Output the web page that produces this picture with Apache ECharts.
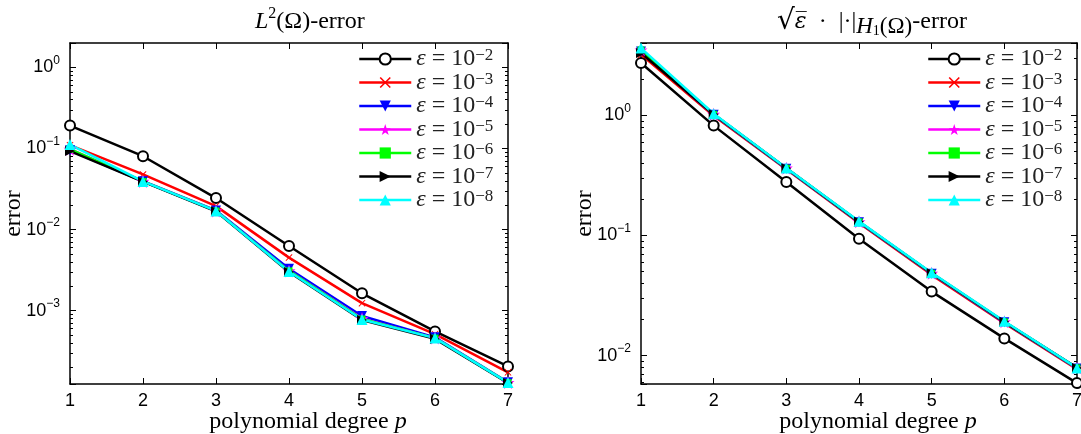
<!DOCTYPE html>
<html>
<head>
<meta charset="utf-8">
<script src="https://cdn.jsdelivr.net/npm/echarts@6/dist/echarts.min.js"></script>
<style>
body { margin: 0; background: #fff; }
#l2 { position: absolute; left: 0; top: 0; width: 540px; height: 434px; }
#h1 { position: absolute; left: 540px; top: 0; width: 541px; height: 434px; }
</style>
</head>
<body>
<div id="l2"></div>
<div id="h1"></div>
<script>
// polynomial degree p on the x axis
var degrees = [1, 2, 3, 4, 5, 6, 7];
// eps = 10^-k
var epsExp = [2, 3, 4, 5, 6, 7, 8];

// L2(Omega) error
var l2Eps2 = [0.192, 0.0804, 0.0245, 0.00628, 0.00164, 0.000556, 0.000206];
var l2Eps3 = [0.110, 0.0479, 0.0195, 0.00452, 0.00124, 0.000515, 0.000174];
var l2Eps4 = [0.095, 0.0395, 0.0172, 0.00330, 0.00086, 0.000470, 0.000131];
var l2Eps5 = [0.098, 0.0393, 0.0170, 0.00310, 0.00080, 0.000460, 0.000130];
var l2Eps6 = [0.098, 0.0393, 0.0170, 0.00310, 0.00079, 0.000460, 0.000130];
var l2Eps7 = [0.093, 0.0390, 0.0168, 0.00300, 0.00077, 0.000450, 0.000129];
var l2Eps8 = [0.112, 0.0393, 0.0170, 0.00305, 0.00078, 0.000460, 0.000130];

// sqrt(eps) * |.|_H1 error
var h1Eps2 = [2.73, 0.821, 0.279, 0.0937, 0.0341, 0.0139, 0.0059];
var h1Eps3 = [3.20, 0.990, 0.355, 0.127, 0.0470, 0.0186, 0.0077];
var h1Eps4 = [3.40, 1.010, 0.360, 0.129, 0.0480, 0.0189, 0.0078];
var h1Eps5 = [3.50, 1.020, 0.363, 0.130, 0.0485, 0.0191, 0.0079];
var h1Eps6 = [3.50, 1.020, 0.363, 0.130, 0.0485, 0.0191, 0.0079];
var h1Eps7 = [3.30, 1.020, 0.362, 0.130, 0.0485, 0.0191, 0.0079];
var h1Eps8 = [3.63, 1.030, 0.365, 0.131, 0.0489, 0.0193, 0.0079];

var colors = ['#000000', '#ff0000', '#0000ff', '#ff00ff', '#00ff00', '#000000', '#00ffff'];
var symbols = [
    'emptyCircle',
    'path://M0,1L1,0L5,4L9,0L10,1L6,5L10,9L9,10L5,6L1,10L0,9L4,5Z',
    'path://M0,0L10,0L5,9Z',
    'path://M5,0L6.2,3.6L10,3.6L6.9,5.9L8.1,9.5L5,7.3L1.9,9.5L3.1,5.9L0,3.6L3.8,3.6Z',
    'rect',
    'path://M0,0L9,5L0,10Z',
    'path://M5,0L10,9L0,9Z'
];
var symbolSizes = [10, 7, 10, 13, 7, 10, 11];

var serif = 'Liberation Serif';
var sans = 'Liberation Sans';

function logLabel(v) {
    var e = Math.log10(v);
    var r = Math.round(e);
    if (Math.abs(e - r) > 1e-6) return '';
    return '{b|10}{s|' + (r < 0 ? '\u2212' + (-r) : r) + '}';
}

function legendText(name) {
    var k = name.split('-')[1];
    return '{e|\u03b5}{n| = 10}{s|\u2212' + k + '}';
}

function txt(size, extra) {
    var s = { fontFamily: serif, fontSize: size, fontWeight: 'normal', color: '#000' };
    for (var k in extra) s[k] = extra[k];
    return s;
}

function makeOption(cfg) {
    var series = [];
    var names = [];
    for (var i = 0; i < cfg.data.length; i++) {
        var name = 'eps-' + epsExp[i];
        names.push(name);
        series.push({
            name: name,
            type: 'line',
            data: degrees.map(function (d, j) { return [d, cfg.data[i][j]]; }),
            symbol: symbols[i],
            symbolSize: symbolSizes[i],
            clip: false,
            lineStyle: { width: 2.5, color: colors[i] },
            itemStyle: { color: colors[i], borderColor: colors[i], borderWidth: i == 0 ? 2 : 0 }
        });
    }
    var tick = { show: true, inside: true, length: 6, lineStyle: { color: '#000', width: 1 } };
    var minor = { show: true, splitNumber: 9, length: 3, lineStyle: { color: '#000', width: 1 } };
    var line = { show: true, lineStyle: { color: '#000', width: 1.5 } };
    return {
        animation: false,
        title: {
            text: cfg.title,
            left: cfg.titleLeft,
            top: 6,
            padding: 0,
            textStyle: { fontWeight: 'normal', rich: cfg.titleRich }
        },
        grid: { left: cfg.gridLeft, right: cfg.gridRight, top: 43, bottom: 50, outerBoundsMode: 'none', containLabel: false },
        legend: {
            orient: 'vertical',
            left: cfg.legendLeft,
            top: 42,
            itemWidth: 52,
            itemHeight: 14,
            itemGap: -0.5,
            selectedMode: false,
            data: names,
            formatter: legendText,
            lineStyle: { width: 2.5 },
            textStyle: {
                fontFamily: serif,
                fontSize: 24,
                color: '#222',
                lineHeight: 23.5,
                rich: {
                    e: { fontFamily: serif, fontSize: 24, fontStyle: 'italic', color: '#222', lineHeight: 23.5 },
                    n: { fontFamily: serif, fontSize: 24, color: '#222', lineHeight: 23.5 },
                    s: { fontFamily: serif, fontSize: 17, color: '#222', lineHeight: 14, verticalAlign: 'top' }
                }
            }
        },
        xAxis: [{
            type: 'value', min: 1, max: 7, interval: 1, position: 'bottom',
            name: '{n|polynomial degree }{i|p}',
            nameLocation: 'middle',
            nameGap: 26,
            nameMoveOverlap: false,
            nameTextStyle: {
                padding: [0, 0, 0, 38],
                rich: { n: txt(24), i: txt(24, { fontStyle: 'italic' }) }
            },
            axisLine: line, axisTick: tick,
            axisLabel: { fontFamily: sans, fontSize: 18, color: '#000', margin: 8 },
            splitLine: { show: false }
        }, {
            type: 'value', min: 1, max: 7, interval: 1, position: 'top',
            axisLine: line, axisTick: tick, axisLabel: { show: false }, splitLine: { show: false }
        }],
        yAxis: [{
            type: 'log', min: cfg.yMin, max: cfg.yMax, position: 'left',
            name: 'error',
            nameLocation: 'middle',
            nameGap: 44,
            nameMoveOverlap: false,
            nameTextStyle: txt(24),
            axisLine: line, axisTick: tick, minorTick: minor,
            axisLabel: {
                formatter: logLabel,
                margin: 10,
                rich: {
                    b: { fontFamily: sans, fontSize: 18, color: '#000', lineHeight: 26 },
                    s: { fontFamily: sans, fontSize: 12, color: '#000', lineHeight: 12, verticalAlign: 'top' }
                }
            },
            splitLine: { show: false }, minorSplitLine: { show: false }
        }, {
            type: 'log', min: cfg.yMin, max: cfg.yMax, position: 'right',
            axisLine: line, axisTick: tick, minorTick: minor,
            axisLabel: { show: false }, splitLine: { show: false }, minorSplitLine: { show: false }
        }],
        series: series
    };
}

var l2Chart = echarts.init(document.getElementById('l2'));
l2Chart.setOption(makeOption({
    data: [l2Eps2, l2Eps3, l2Eps4, l2Eps5, l2Eps6, l2Eps7, l2Eps8],
    yMin: 1.25e-4, yMax: 2,
    gridLeft: 70, gridRight: 32,
    legendLeft: 353,
    title: '{i|L}{s|2}{n|(\u03a9)-error}',
    titleLeft: 255,
    titleRich: {
        i: txt(24, { fontStyle: 'italic', lineHeight: 32 }),
        s: txt(16, { lineHeight: 16, verticalAlign: 'top' }),
        n: txt(24, { lineHeight: 32 })
    }
}));

var h1Chart = echarts.init(document.getElementById('h1'));
h1Chart.setOption(makeOption({
    data: [h1Eps2, h1Eps3, h1Eps4, h1Eps5, h1Eps6, h1Eps7, h1Eps8],
    yMin: 0.0058, yMax: 4,
    gridLeft: 101, gridRight: 4,
    legendLeft: 382,
    title: '{r|\u221a}{i|\u03b5\u0305}{n|\u2002\u00b7\u2002|\u00b7|}{si|H}{ss|1}{sn|(\u03a9)}{n|-error}',
    titleLeft: 237,
    titleRich: {
        r: txt(28, { fontFamily: 'DejaVu Serif', lineHeight: 32 }),
        n: txt(24, { lineHeight: 32 }),
        i: txt(22, { fontFamily: 'DejaVu Serif', fontStyle: 'italic', lineHeight: 32 }),
        si: txt(23, { fontStyle: 'italic', lineHeight: 20, verticalAlign: 'bottom' }),
        ss: txt(14, { lineHeight: 28, verticalAlign: 'bottom' }),
        sn: txt(23, { lineHeight: 20, verticalAlign: 'bottom' })
    }
}));
</script>
</body>
</html>
